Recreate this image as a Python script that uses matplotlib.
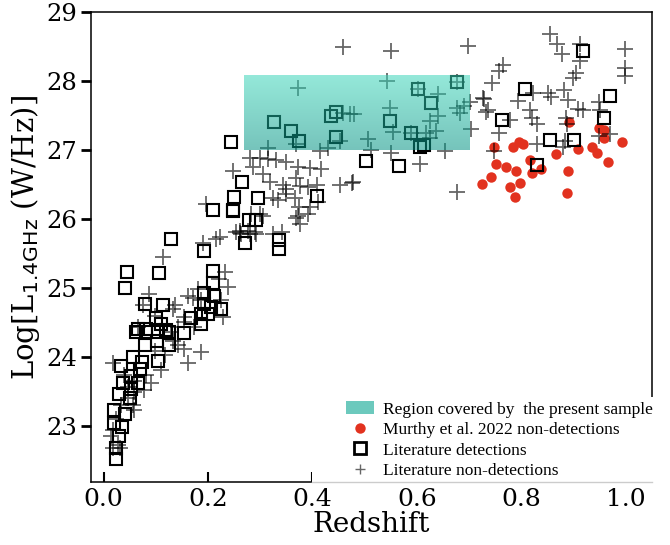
import matplotlib
matplotlib.use('Agg')
import matplotlib.pyplot as plt
from matplotlib.patches import Patch, Rectangle
from matplotlib.lines import Line2D
import numpy as np

plt.rcParams['font.family'] = 'DejaVu Serif'
plt.rcParams['mathtext.fontset'] = 'dejavusans'

# Murthy et al. 2022 non-detections
z_murthy = [0.747, 0.784, 0.795, 0.804, 0.725, 0.741, 0.752, 0.771, 0.789, 0.778,
            0.787, 0.798, 0.817, 0.821, 0.837, 0.867, 0.891, 0.908, 0.889, 0.887,
            0.935, 0.945, 0.948, 0.959, 0.958, 0.965, 0.993]
l_murthy = [27.05, 27.04, 27.12, 27.09, 26.51, 26.61, 26.80, 26.76, 26.69, 26.46,
            26.32, 26.52, 26.85, 26.66, 26.72, 26.94, 27.41, 27.01, 26.70, 26.38,
            27.05, 26.96, 27.32, 27.29, 27.18, 26.82, 27.12]

# literature detections
z_det = [0.806, 0.917, 0.969, 0.958, 0.762, 0.854, 0.900, 0.830,
         0.602, 0.676, 0.626, 0.548, 0.589, 0.613, 0.605, 0.502, 0.566,
         0.244, 0.326, 0.358, 0.374, 0.436, 0.446, 0.445, 0.265, 0.249, 0.248,
         0.296, 0.278, 0.291, 0.270, 0.336, 0.336, 0.408,
         0.209, 0.247, 0.129, 0.193, 0.045, 0.107, 0.041, 0.209, 0.209, 0.192,
         0.212, 0.080, 0.113, 0.193, 0.206, 0.225, 0.168, 0.186, 0.186, 0.200,
         0.155, 0.101, 0.110, 0.066, 0.082, 0.120,
         0.062, 0.082, 0.104, 0.126, 0.080, 0.103, 0.126, 0.056, 0.073, 0.104,
         0.034, 0.069, 0.052, 0.037, 0.066, 0.053, 0.029, 0.050, 0.021, 0.041,
         0.021, 0.035, 0.029, 0.024, 0.024]
l_det = [27.89, 28.44, 27.78, 27.47, 27.44, 27.15, 27.15, 26.79,
         27.88, 27.98, 27.68, 27.42, 27.25, 27.08, 27.05, 26.84, 26.77,
         27.12, 27.41, 27.28, 27.13, 27.50, 27.55, 27.19, 26.53, 26.32, 26.12,
         26.30, 25.98, 25.99, 25.66, 25.69, 25.57, 26.34,
         26.13, 26.13, 25.71, 25.53, 25.23, 25.22, 25.00, 25.24, 25.08, 24.93,
         24.89, 24.77, 24.76, 24.77, 24.73, 24.70, 24.56, 24.62, 24.48, 24.63,
         24.35, 24.56, 24.48, 24.41, 24.40, 24.39,
         24.36, 24.36, 24.36, 24.36, 24.17, 24.23, 24.17, 24.00, 23.93, 23.94,
         23.87, 23.83, 23.72, 23.63, 23.62, 23.54, 23.46, 23.40, 23.23, 23.18,
         23.04, 22.99, 22.85, 22.68, 22.53]

# literature non-detections
z_nd = [0.855, 0.868, 0.878, 0.912, 0.913, 0.998, 0.999, 0.999, 0.765, 0.757,
        0.743, 0.728, 0.736, 0.778, 0.758, 0.747, 0.794, 0.822, 0.851, 0.857,
        0.881, 0.889, 0.899, 0.905, 0.816, 0.821, 0.830, 0.885, 0.887, 0.908,
        0.918, 0.949, 0.950, 0.949, 0.970, 0.830, 0.880, 0.883,
        0.551, 0.698, 0.542, 0.479, 0.548, 0.554, 0.506, 0.513, 0.551, 0.640,
        0.640, 0.625, 0.637, 0.618, 0.625, 0.653, 0.605, 0.676, 0.682, 0.691,
        0.701, 0.704, 0.727, 0.733, 0.478, 0.676, 0.602, 0.676, 0.589, 0.459,
        0.372, 0.471, 0.459, 0.315, 0.369, 0.430, 0.414, 0.452, 0.280, 0.299,
        0.315, 0.331, 0.350, 0.372, 0.395, 0.417, 0.286, 0.248, 0.305, 0.318,
        0.344, 0.350, 0.369, 0.376, 0.392, 0.408, 0.452, 0.475, 0.325, 0.334,
        0.350, 0.366, 0.374, 0.372, 0.368, 0.395, 0.392, 0.411, 0.376, 0.299,
        0.305, 0.261, 0.261, 0.280, 0.290, 0.325, 0.341, 0.223,
        0.113, 0.190, 0.215, 0.196, 0.254, 0.263, 0.276, 0.292, 0.282, 0.088,
        0.161, 0.171, 0.232, 0.238, 0.222, 0.180, 0.133, 0.136, 0.075, 0.098,
        0.066, 0.155, 0.228, 0.225, 0.155, 0.129, 0.142, 0.174, 0.187,
        0.161, 0.187, 0.155, 0.018, 0.098, 0.110, 0.082, 0.059, 0.059, 0.056,
        0.059, 0.034, 0.024, 0.018, 0.015, 0.019, 0.031, 0.027, 0.047, 0.078,
        0.091, 0.117, 0.133, 0.142, 0.047, 0.040]
l_nd = [28.68, 28.54, 28.39, 28.29, 28.53, 28.47, 28.19, 28.07, 28.23, 28.14,
        27.97, 27.74, 27.58, 27.43, 27.25, 26.99, 27.71, 27.82, 27.82, 27.77,
        27.87, 27.72, 28.05, 28.11, 27.58, 27.47, 27.37, 27.47, 27.37, 27.60,
        27.58, 27.70, 27.58, 27.21, 27.23, 27.09, 27.04, 27.13,
        28.43, 28.51, 28.00, 27.52, 27.61, 27.26, 27.16, 27.00, 26.96, 27.81,
        27.49, 27.42, 27.28, 27.25, 27.18, 26.99, 26.80, 27.61, 27.54, 27.64,
        27.69, 27.30, 27.76, 27.55, 26.53, 26.39, 27.88, 27.98, 27.25, 28.49,
        27.90, 27.52, 27.53, 27.03, 27.09, 27.03, 26.99, 27.13, 26.89, 26.88,
        26.87, 26.85, 26.82, 26.76, 26.74, 26.72, 26.75, 26.70, 26.65, 26.53,
        26.50, 26.43, 26.60, 26.48, 26.46, 26.50, 26.50, 26.52, 26.31, 26.27,
        26.36, 26.31, 26.17, 26.05, 26.02, 26.17, 26.07, 26.24, 25.93, 26.07,
        26.05, 25.83, 25.80, 25.78, 25.81, 25.78, 25.81, 25.74,
        25.45, 25.66, 25.71, 26.22, 25.81, 25.78, 25.83, 25.78, 26.07, 24.92,
        24.89, 24.85, 25.23, 25.01, 25.13, 24.99, 24.70, 24.75, 24.75, 24.60,
        24.43, 24.58, 24.58, 24.82, 24.51, 24.36, 24.43, 24.43, 24.82,
        23.91, 24.07, 24.12, 23.91, 24.09, 23.81, 23.74, 23.66, 23.50, 23.30,
        23.23, 23.30, 23.11, 22.94, 22.85, 22.68, 22.68, 22.73, 23.57, 23.52,
        23.62, 24.03, 24.24, 24.17, 23.40, 23.74]

# redshift / luminosity range of the present sample
region_z = (0.268, 0.700)
region_l = (27.0, 28.08)

fig = plt.figure(figsize=(6.7, 5.45), dpi=100)
ax = fig.add_axes([0.1358, 0.1156, 0.8373, 0.8624])

ax.plot(z_murthy, l_murthy, 'o', color='#e2321f', ms=7.5, mec='none', zorder=2)
ax.plot(z_nd, l_nd, '+', color='k', alpha=0.6, ms=11, mew=1.3, zorder=3)
ax.plot(z_det, l_det, 's', mfc='none', mec='k', ms=8, mew=1.5, zorder=3.5)

# shaded sample region, lighter at the top
top = np.array([0.24, 0.84, 0.73])
bot = np.array([0.02, 0.58, 0.52])
t = np.linspace(0, 1, 64)[:, None]
grad = np.zeros((64, 1, 4))
grad[:, 0, :3] = bot + (top - bot) * t
grad[:, 0, 3] = 1.0
ax.imshow(grad, extent=[region_z[0], region_z[1], region_l[0], region_l[1]],
          origin='lower', aspect='auto', alpha=0.55, zorder=4,
          interpolation='bilinear')

ax.set_xlim(-0.024, 1.05)
ax.set_ylim(22.19, 29.0)
ax.set_xticks([0.0, 0.2, 0.4, 0.6, 0.8, 1.0])
ax.set_yticks([23, 24, 25, 26, 27, 28, 29])
ax.tick_params(axis='x', direction='in', length=7, width=1.5, labelsize=18, pad=4)
ax.tick_params(axis='y', direction='out', length=7, width=2, labelsize=17.5, pad=3)
ax.tick_params(top=False, right=False)
for s in ax.spines.values():
    s.set_linewidth(1.1)

ax.set_xlabel('Redshift', fontsize=20, labelpad=0)
ax.set_ylabel(r'Log[L$_{\rm 1.4GHz}$ (W/Hz)]', fontsize=21)
ax.yaxis.set_label_coords(-0.088, 0.52)

# white backing behind the legend, with a faint line where the axis runs
ax.add_patch(Rectangle((0.394, -0.006), 0.615, 0.186, transform=ax.transAxes,
                       facecolor='white', edgecolor='none',
                       clip_on=False, zorder=6))
ax.plot([0.394, 1.0], [0.0, 0.0], color='0.8', lw=1, transform=ax.transAxes,
        clip_on=False, zorder=6.5)

handles = [
    Patch(facecolor='#6cc9bd', edgecolor='none'),
    Line2D([], [], marker='o', ls='none', color='#e2321f', ms=7.5, mec='none'),
    Line2D([], [], marker='s', ls='none', mfc='none', mec='k', ms=9, mew=2),
    Line2D([], [], marker='+', ls='none', color='0.4', ms=7, mew=1),
]
labels = ['Region covered by  the present sample',
          'Murthy et al. 2022 non-detections',
          'Literature detections',
          'Literature non-detections']
leg = ax.legend(handles, labels, loc='lower right', bbox_to_anchor=(1.03, -0.027),
                frameon=False, handlelength=1.6, handletextpad=0.55,
                labelspacing=0.25, prop={'family': 'Liberation Serif', 'size': 12.5})
leg.set_zorder(7)

fig.savefig('out.png', dpi=100)
